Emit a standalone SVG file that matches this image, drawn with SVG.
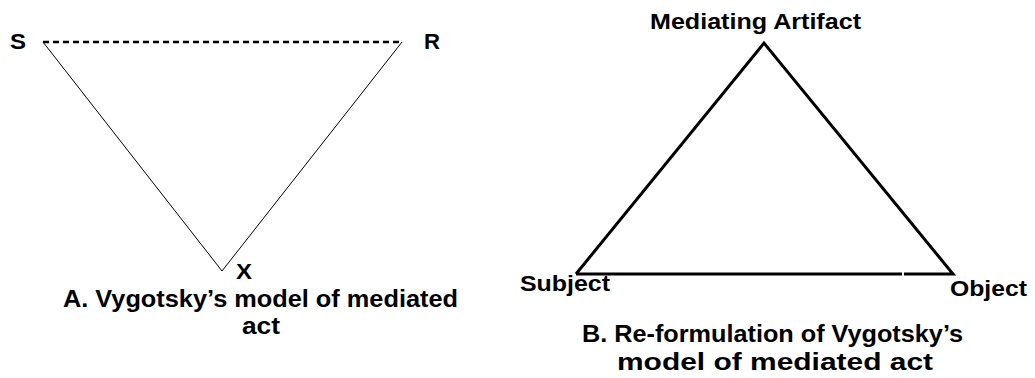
<svg xmlns="http://www.w3.org/2000/svg" width="1035" height="378" viewBox="0 0 1035 378">
<style>
text{font-family:"Liberation Sans",Arial,sans-serif;font-weight:bold;fill:#000}
.lbl{font-size:22.5px}
.cap{font-size:23.5px}
.thin{stroke:#000;stroke-width:1;fill:none}
.thick{stroke:#000;stroke-width:3;fill:none;stroke-linejoin:miter}
</style>
<rect width="1035" height="378" fill="#fff"/>
<g id="connectors">
<line x1="43" y1="42" x2="402" y2="42" stroke="#000" stroke-width="2.5" stroke-dasharray="6,4"/>
<polyline class="thin" points="43,42 222,271 402,42"/>
<polyline class="thick" points="576,274 764,43 953,274 904,274"/>
<line class="thick" x1="576" y1="274" x2="902" y2="274"/>
</g>
<g id="node-S"><text class="lbl" x="10" y="49" textLength="16" lengthAdjust="spacingAndGlyphs">S</text></g>
<g id="node-R"><text class="lbl" x="424" y="49" textLength="16" lengthAdjust="spacingAndGlyphs">R</text></g>
<g id="node-X"><text class="lbl" x="236" y="279" textLength="16" lengthAdjust="spacingAndGlyphs">X</text></g>
<g id="caption-A"><text class="cap" x="63" y="307" textLength="395" lengthAdjust="spacingAndGlyphs">A. Vygotsky’s model of mediated</text><text class="cap" x="242" y="334" textLength="38" lengthAdjust="spacingAndGlyphs">act</text></g>
<g id="node-mediating"><text class="lbl" x="650" y="29" textLength="211" lengthAdjust="spacingAndGlyphs">Mediating Artifact</text></g>
<g id="node-subject"><text class="lbl" x="520" y="291" textLength="90" lengthAdjust="spacingAndGlyphs">Subject</text></g>
<g id="node-object"><text class="lbl" x="950" y="296" textLength="77" lengthAdjust="spacingAndGlyphs">Object</text></g>
<g id="caption-B"><text class="cap" x="582" y="342" textLength="381" lengthAdjust="spacingAndGlyphs">B. Re-formulation of Vygotsky’s</text><text class="cap" x="617" y="370" textLength="316" lengthAdjust="spacingAndGlyphs">model of mediated act</text></g>
</svg>
